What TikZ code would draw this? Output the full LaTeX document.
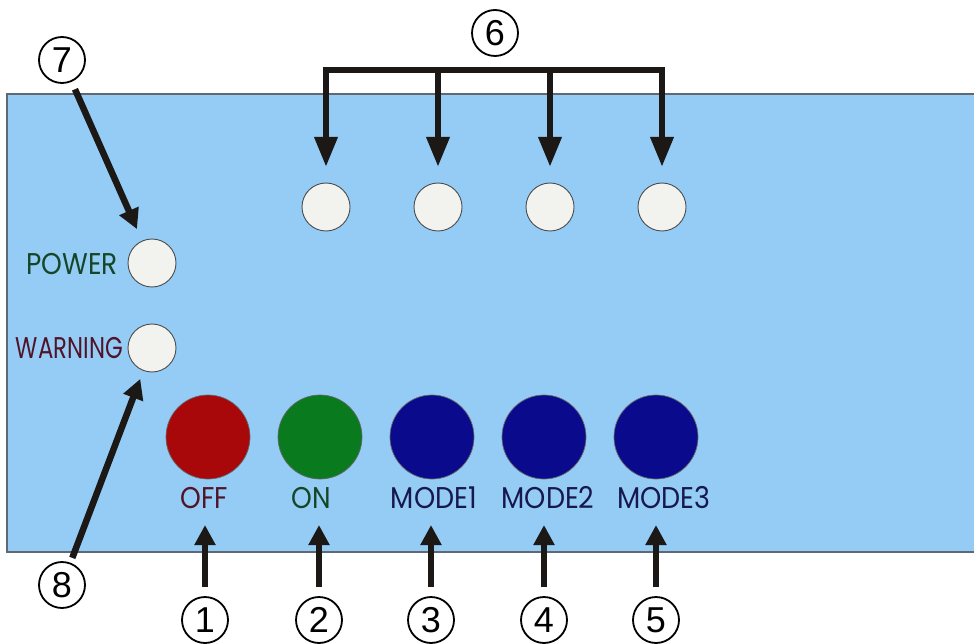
\documentclass[tikz,border=0pt]{standalone}
\usepackage{fontspec}
\usetikzlibrary{arrows.meta}
\newfontfamily\lblfont{Poppins}
\newfontfamily\numfont{Liberation Sans}
\definecolor{panel}{RGB}{148,204,246}
\definecolor{panelline}{RGB}{95,105,115}
\definecolor{ledwhite}{RGB}{242,242,238}
\definecolor{btnred}{RGB}{168,8,10}
\definecolor{btngreen}{RGB}{10,122,30}
\definecolor{btnblue}{RGB}{10,10,140}
\definecolor{txtgreen}{RGB}{22,70,40}
\definecolor{txtred}{RGB}{80,20,40}
\definecolor{txtblue}{RGB}{22,24,78}
\definecolor{arrowblack}{RGB}{28,24,22}
\newcommand{\lbltext}[2]{\scalebox{#1}[1]{#2}}
\begin{document}
\begin{tikzpicture}[x=1pt,y=-1pt,
  led/.style={circle,draw=black!70,line width=0.9pt,fill=ledwhite,minimum size=48pt,inner sep=0pt},
  btn/.style={circle,draw=black!60,line width=0.7pt,minimum size=84pt,inner sep=0pt},
  num/.style={circle,draw=black,line width=1.8pt,fill=white,minimum size=46pt,inner sep=0pt,font=\numfont\fontsize{36}{36}\selectfont},
  lbl/.style={inner sep=0pt,font=\lblfont\fontsize{30}{30}\selectfont},
  arr/.style={draw=arrowblack,line width=6.5pt,-{Triangle[length=20pt,width=20pt]}},
  bigarr/.style={draw=arrowblack,line width=6.5pt,-{Triangle[length=30pt,width=22pt]}}]
\useasboundingbox (0,0) rectangle (974,644);
\fill[white] (0,0) rectangle (974,644);
% panel
\draw[fill=panel,draw=panelline,line width=1.3pt] (7,94) rectangle (990,552);
% top LEDs
\node[led] (t1) at (326,207) {};
\node[led] (t2) at (438,207) {};
\node[led] (t3) at (550,207) {};
\node[led] (t4) at (662,207) {};
% side LEDs
\node[led] (power) at (152,263) {};
\node[led] (warning) at (152,348) {};
\node[lbl,text=txtgreen,anchor=east] (powertxt) at (118,264) {\lbltext{0.88}{POWER}};
\node[lbl,text=txtred,anchor=east] (warntxt) at (123,348) {\lbltext{0.76}{WARNING}};
% buttons
\node[btn,fill=btnred] (b1) at (208,437) {};
\node[btn,fill=btngreen] (b2) at (320,437) {};
\node[btn,fill=btnblue] (b3) at (432,437) {};
\node[btn,fill=btnblue] (b4) at (544,437) {};
\node[btn,fill=btnblue] (b5) at (656,437) {};
\node[lbl,text=txtred] (l1) at (204,498) {\lbltext{0.88}{OFF}};
\node[lbl,text=txtgreen] (l2) at (311,498) {\lbltext{0.88}{ON}};
\node[lbl,text=txtblue] (l3) at (434,498) {\lbltext{0.9}{MODE1}};
\node[lbl,text=txtblue] (l4) at (548,498) {\lbltext{0.9}{MODE2}};
\node[lbl,text=txtblue] (l5) at (664,498) {\lbltext{0.9}{MODE3}};
% number circles
\node[num] (n1) at (205,620) {1};
\node[num] (n2) at (319,620) {2};
\node[num] (n3) at (431,620) {3};
\node[num] (n4) at (544,620) {4};
\node[num] (n5) at (656,620) {5};
\node[num] (n6) at (495,33) {6};
\node[num] (n7) at (62,60) {7};
\node[num] (n8) at (62,585) {8};
% bottom arrows
\foreach \i in {1,...,5}{
  \draw[arr,shorten <=33pt,shorten >=27pt] (n\i.center) -- (n\i.center|-l\i.center);
}
% diagonal arrows
\draw[arr,shorten <=32pt,shorten >=37pt] (n7.center) -- (power.center);
\draw[arr,shorten <=29pt,shorten >=33pt] (n8.center) -- (warning.center);
% bracket for 6
\coordinate (bar) at (495,70);
\draw[draw=arrowblack,line width=6.5pt,line cap=rect] (t1|-bar) -- (t4|-bar);
\foreach \i in {1,...,4}{
  \draw[bigarr,shorten >=40pt] (t\i|-bar) -- (t\i.center);
}
\end{tikzpicture}
\end{document}
